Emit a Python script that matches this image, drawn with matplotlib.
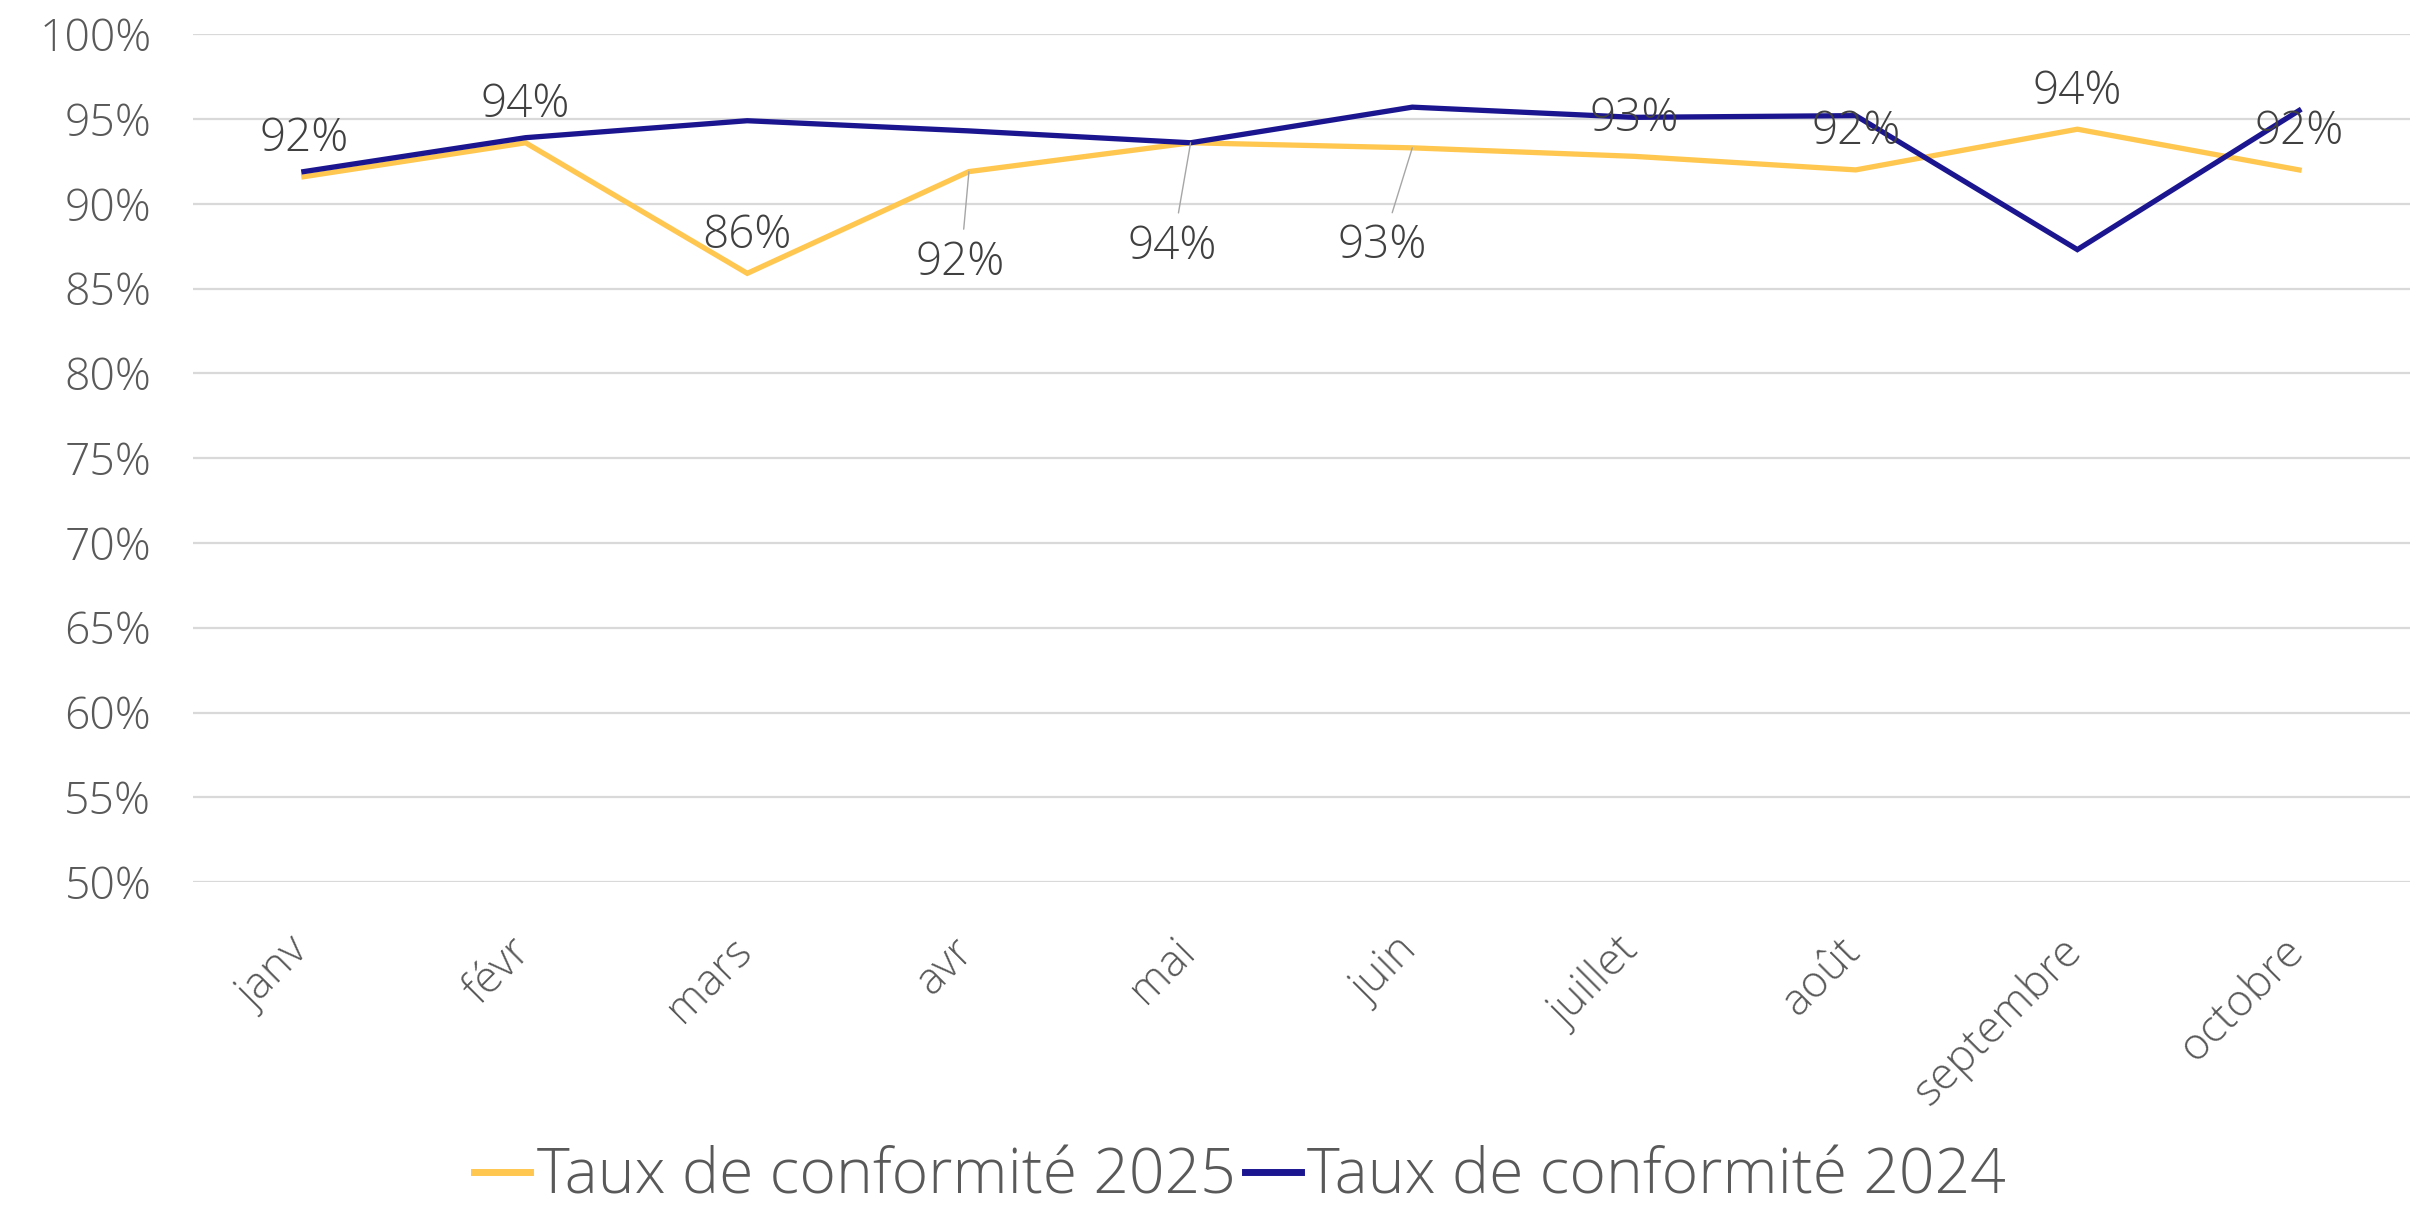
import numpy as np
import matplotlib.pyplot as plt
import matplotlib.transforms as mtransforms

# --- Data ---
mois = ["janv", "févr", "mars", "avr", "mai", "juin", "juillet", "août", "septembre", "octobre"]
taux_2025 = [91.6, 93.6, 85.9, 91.9, 93.6, 93.3, 92.8, 92.0, 94.4, 92.0]
taux_2024 = [91.9, 93.9, 94.9, 94.3, 93.6, 95.7, 95.1, 95.2, 87.3, 95.5]
labels_2025 = ["92%", "94%", "86%", "92%", "94%", "93%", "93%", "92%", "94%", "92%"]
y_ticks = [50, 55, 60, 65, 70, 75, 80, 85, 90, 95, 100]

# label offsets in points (most above the point, a few below with a leader line)
label_offsets = [(0, 27), (0, 27), (0, 27), (-6, -66), (-13, -75), (-22, -71),
                 (0, 27), (0, 27), (0, 27), (0, 27)]
leader = [False, False, False, True, True, True, False, False, False, False]

# --- Style ---
plt.rcParams['font.family'] = ['Open Sans', 'DejaVu Sans']
plt.rcParams['font.weight'] = 'light'
tick_color = '#595959'
label_color = '#404040'
yellow = '#FFC74F'
navy = '#1B1690'

fig = plt.figure(figsize=(24.22, 12.10), dpi=100)
ax = fig.add_axes([0.0797, 0.271, 0.9153, 0.7007])

x = np.arange(len(mois))
ax.plot(x, taux_2025, color=yellow, linewidth=3.8, label="Taux de conformité 2025",
        solid_joinstyle='miter', zorder=3)
ax.plot(x, taux_2024, color=navy, linewidth=3.8, label="Taux de conformité 2024",
        solid_joinstyle='miter', zorder=4)

# data labels for 2025
for i, (val, lab) in enumerate(zip(taux_2025, labels_2025)):
    dx, dy = label_offsets[i]
    props = None
    if leader[i]:
        props = dict(arrowstyle='-', color='#A6A6A6', linewidth=1.0,
                     shrinkA=6, shrinkB=0)
    ax.annotate(lab, xy=(i, val), xytext=(dx, dy), textcoords='offset points',
                ha='center', va='center', fontsize=33, color=label_color,
                arrowprops=props, zorder=5)

ax.set_xlim(-0.5, len(mois) - 0.5)
ax.set_ylim(50, 100)
ax.set_yticks(y_ticks)
ax.set_yticklabels([f"{v}%" for v in y_ticks])
ax.set_xticks(x)
ax.set_xticklabels(mois, rotation=45, ha='right', va='top')

ax.tick_params(axis='y', length=0, pad=30, labelsize=32, labelcolor=tick_color)
ax.tick_params(axis='x', length=0, pad=34, labelsize=32, labelcolor=tick_color)

# shift x labels slightly to the right like the original
offset = mtransforms.ScaledTranslation(14 / 100, 0, fig.dpi_scale_trans)
for lbl in ax.get_xticklabels():
    lbl.set_transform(lbl.get_transform() + offset)

ax.grid(axis='y', color='#D9D9D9', linewidth=1.6)
ax.set_axisbelow(True)
for s in ax.spines.values():
    s.set_visible(False)

leg = fig.legend(loc='center', bbox_to_anchor=(0.512, 0.027), ncol=2, frameon=False,
                 fontsize=45, handlelength=0.9, handletextpad=0.1, columnspacing=0.15,
                 labelcolor=tick_color)
for h in leg.get_lines():
    h.set_linewidth(5)

plt.savefig("out.png", dpi=100)
